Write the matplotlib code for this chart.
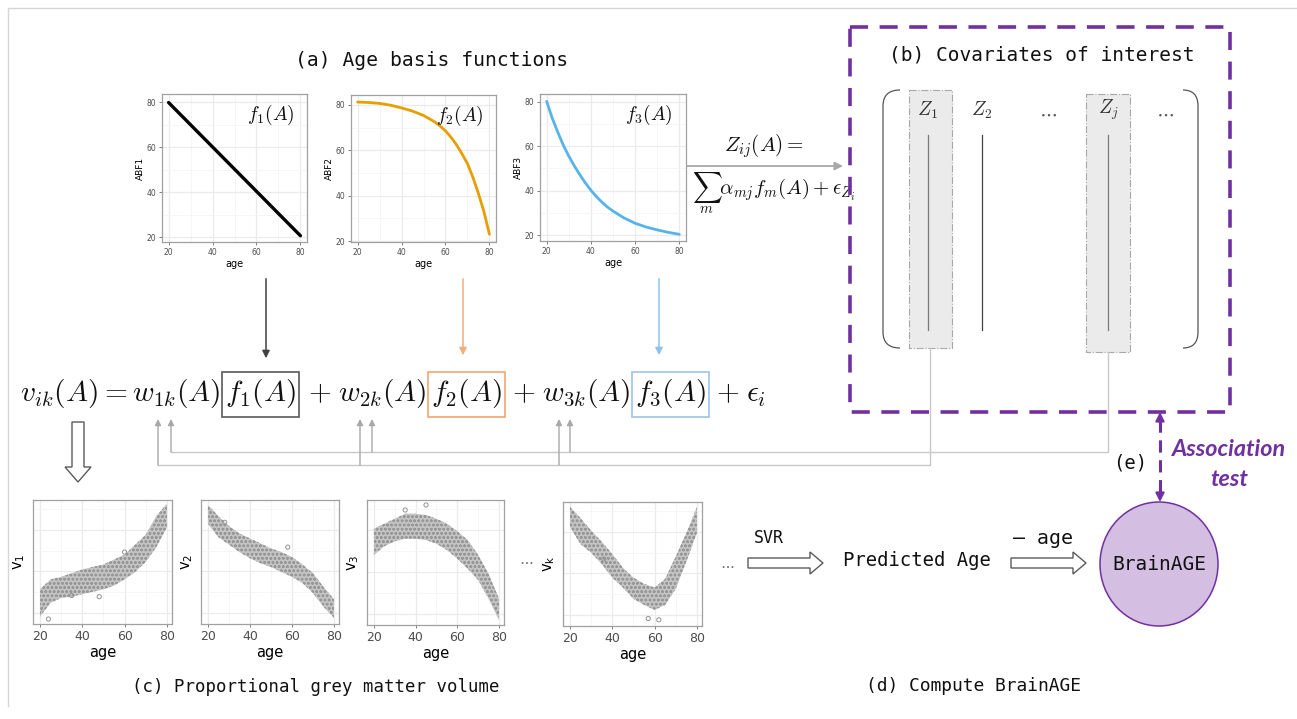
import numpy as np
import matplotlib
matplotlib.use('Agg')
import matplotlib.pyplot as plt
from matplotlib.patches import Rectangle, FancyArrow, Ellipse, PathPatch
from matplotlib.path import Path

plt.rcParams['mathtext.fontset'] = 'cm'
plt.rcParams['font.family'] = ['DejaVu Sans']

W, H = 1297, 719

# ---------------- data ----------------
abf1_age = [20, 80]
abf1 = [79.8, 20.6]

abf2_age = [20, 25, 30, 35, 40, 45, 50, 55, 57.5, 60, 62.5, 65, 67.5, 70, 72.5, 75, 77.5, 80]
abf2 = [81.3, 81.1, 80.7, 79.9, 78.7, 77.3, 75.4, 72.6, 70.8, 68.6, 65.8, 62.5, 58.5,
        54.2, 48.1, 41.0, 33.0, 23.0]

abf3_age = [20, 22.5, 25, 27.5, 30, 32.5, 35, 37.5, 40, 42.5, 45, 47.5, 50, 55, 60, 65, 70, 75, 80]
abf3 = [80.3, 72.8, 66.5, 60.6, 55.6, 51.2, 47.2, 43.5, 40.2, 37.3, 34.8, 32.6, 30.8,
        27.7, 25.3, 23.6, 22.3, 21.2, 20.3]

basis_labels = ['ABF1', 'ABF2', 'ABF3']
basis_titles = [r'$f_1(A)$', r'$f_2(A)$', r'$f_3(A)$']

gm_age = [20, 25, 30, 35, 40, 45, 50, 55, 60, 65, 70, 75, 80]
v1_low = [6, 17, 21, 22, 24, 26, 28, 31, 36, 42, 50, 62, 78]
v1_high = [28, 36, 38, 41, 44, 46, 48, 52, 56, 64, 72, 87, 97]
v2_low = [81, 70, 64, 58, 53, 49, 46, 42, 38, 33, 25, 14, 5]
v2_high = [96, 87, 79, 73, 69, 65, 61, 58, 54, 48, 41, 30, 20]
v3_low = [56, 63, 67, 69, 69, 68, 65, 60, 53, 45, 36, 21, 4]
v3_high = [77, 81, 85, 89, 89, 88, 85, 81, 75, 68, 56, 41, 21]
vk_low = [80, 66, 59, 50, 39, 31, 22, 17, 13, 17, 30, 52, 75]
vk_high = [96, 87, 77, 68, 58, 47, 39, 34, 31, 38, 56, 75, 96]
v_labels = [r'$\mathregular{v_1}$', r'$\mathregular{v_2}$', r'$\mathregular{v_3}$', r'$\mathregular{v_k}$']
v1_out_age, v1_out_val = [48, 60, 24, 35], [22, 58, 4, 23]
v2_out_age, v2_out_val = [28, 58], [82, 62]
v3_out_age, v3_out_val = [45, 35], [96, 92]
vk_out_age, vk_out_val = [57, 62, 36], [6, 5, 54]

cov_labels = [r'$Z_1$', r'$Z_2$', r'$Z_j$']

# ---------------- figure ----------------
fig = plt.figure(figsize=(W / 100, H / 100), dpi=100)
fig.patch.set_facecolor('white')
ax = fig.add_axes([0, 0, 1, 1], zorder=0)
ax.set_xlim(0, W)
ax.set_ylim(H, 0)
ax.axis('off')
R = fig.canvas.get_renderer()


def px_axes(l, t, r, b):
    return fig.add_axes([l / W, 1 - b / H, (r - l) / W, (b - t) / H], zorder=2)


def fit_text(x, y, s, width, **kw):
    t = ax.text(x, y, s, **kw)
    for _ in range(3):
        w = t.get_window_extent(R).width
        t.set_fontsize(t.get_fontsize() * width / w)
    return t


def style_gg(a, labelsize):
    a.set_facecolor('white')
    for sp in a.spines.values():
        sp.set_color('#A0A0A0')
        sp.set_linewidth(0.9)
    a.grid(True, which='major', color='#EBEBEB', lw=0.9)
    a.grid(True, which='minor', color='#F5F5F5', lw=0.6)
    a.set_axisbelow(True)
    a.tick_params(which='major', length=2.5, width=0.6, color='#6A6A6A',
                  labelsize=labelsize, labelcolor='#4D4D4D', pad=1.5)
    a.tick_params(which='minor', length=0)


# border of the whole picture
ax.plot([8, 8], [8, 706], color='#D6D6D6', lw=1)
ax.plot([8, W], [8, 8], color='#D6D6D6', lw=1)

# ---------------- (a) basis functions ----------------
fit_text(432, 60, '(a) Age basis functions', 271, family='DejaVu Sans Mono',
         ha='center', va='center', fontsize=14, color='#111111')

boxes_a = [(162, 94, 307, 242), (351, 95, 496, 242), (540, 94, 686, 241)]
ylims_a = [(17.8, 83.6), (19.6, 84.4), (17.3, 83.6)]
series_a = [(abf1_age, abf1, '#000000', 2.4), (abf2_age, abf2, '#E69F00', 2.0),
            (abf3_age, abf3, '#56B4E9', 2.0)]
for i in range(3):
    a = px_axes(*boxes_a[i])
    xs, ys, col, lw = series_a[i]
    a.plot(xs, ys, color=col, lw=lw, solid_capstyle='round', solid_joinstyle='round')
    a.set_xlim(17, 83)
    a.set_ylim(*ylims_a[i])
    a.set_xticks([20, 40, 60, 80])
    a.set_xticks([30, 50, 70], minor=True)
    a.set_yticks([20, 40, 60, 80])
    a.set_yticks([30, 50, 70], minor=True)
    style_gg(a, 5.5)
    a.set_xlabel('age', fontsize=7, labelpad=1.5)
    a.set_ylabel(basis_labels[i], fontsize=6.5, labelpad=1.5)
    a.text(0.91, 0.86, basis_titles[i], transform=a.transAxes, ha='right',
           va='center', fontsize=14, color='#111111')

# arrows from basis plots to equation
ax.annotate('', xy=(266, 361), xytext=(266, 276),
            arrowprops=dict(arrowstyle='-|>', color='#404040', lw=1.1, mutation_scale=11))
ax.annotate('', xy=(463, 358), xytext=(463, 276),
            arrowprops=dict(arrowstyle='-|>', color='#F4AE7E', lw=1.1, mutation_scale=11))
ax.annotate('', xy=(659, 358), xytext=(659, 276),
            arrowprops=dict(arrowstyle='-|>', color='#8EC3EA', lw=1.1, mutation_scale=11))

# ---------------- equation ----------------
pieces = [r'$v_{ik}(A) = w_{1k}(A)$', r'$f_1(A)$', r'$+\;w_{2k}(A)$', r'$f_2(A)$',
          r'$+\;w_{3k}(A)$', r'$f_3(A)$', r'$+\;\epsilon_i$']
gaps = [5, 12, 5, 10, 5, 10]
texts = [ax.text(0, 400, p, fontsize=22, va='baseline', ha='left', color='#111111')
         for p in pieces]
tot = sum(t.get_window_extent(R).width for t in texts)
fs = 22 * (745 - sum(gaps)) / tot
for t in texts:
    t.set_fontsize(fs)
x = 20
exts = []
for i, t in enumerate(texts):
    t.set_x(x)
    w = t.get_window_extent(R).width
    exts.append((x, x + w))
    x += w + (gaps[i] if i < len(gaps) else 0)
bb = texts[1].get_window_extent(R)
cy = H - (bb.y0 + bb.y1) / 2
for t in texts:
    t.set_y(400 + (394 - cy))
box_cols = ['#595959', '#F4A66E', '#9DC3E6']
for k, idx in enumerate([1, 3, 5]):
    x0, x1 = exts[idx]
    ax.add_patch(Rectangle((x0 - 3, 371.5), x1 - x0 + 6, 45, fill=False,
                           ec=box_cols[k], lw=1.2, zorder=3))

# big hollow arrow down
ax.add_patch(FancyArrow(78, 422, 0, 60, width=12, head_width=26, head_length=15,
                        length_includes_head=True, fc='white', ec='#5A5A5A', lw=1.0))

# connectors from Z columns back to weights
lc = '#C8C8C8'
ax.plot([930, 930, 158], [348, 465, 465], color=lc, lw=1)
ax.plot([1108, 1108, 171], [352, 452, 452], color=lc, lw=1)
for xx in [158, 360, 559]:
    ax.annotate('', xy=(xx, 419), xytext=(xx, 465),
                arrowprops=dict(arrowstyle='-|>', color='#A8A8A8', lw=1, mutation_scale=9,
                                shrinkA=0, shrinkB=0))
for xx in [171, 372, 570]:
    ax.annotate('', xy=(xx, 419), xytext=(xx, 452),
                arrowprops=dict(arrowstyle='-|>', color='#A8A8A8', lw=1, mutation_scale=9,
                                shrinkA=0, shrinkB=0))

# ---------------- Z_ij relation ----------------
ax.annotate('', xy=(843, 166), xytext=(686, 166),
            arrowprops=dict(arrowstyle='-|>', color='#A8A8A8', lw=1.3, mutation_scale=12,
                            shrinkA=0, shrinkB=0))
fit_text(764, 146, r'$Z_{ij}(A) =$', 80, ha='center', va='center', fontsize=16, color='#111111')
fit_text(692, 193, r'$\sum_{m}\alpha_{mj}f_m(A)+\epsilon_{Z_i}$', 164, ha='left',
         va='center', fontsize=12, color='#111111')

# ---------------- (b) covariates ----------------
purple = '#7030A0'
ax.add_patch(Rectangle((850, 27), 380, 385, fill=False, ec=purple, lw=2.6,
                       ls=(0, (5, 3.2)), zorder=4))
fit_text(1042, 55, '(b) Covariates of interest', 306, family='DejaVu Sans Mono',
         ha='center', va='center', fontsize=14, color='#111111')


def bracket(xa, xb, y0, y1, r=16):
    verts = [(xb, y0), (xa, y0), (xa, y0 + r), (xa, y1 - r), (xa, y1), (xb, y1)]
    codes = [Path.MOVETO, Path.CURVE3, Path.CURVE3, Path.LINETO, Path.CURVE3, Path.CURVE3]
    ax.add_patch(PathPatch(Path(verts, codes), fill=False, ec='#555555', lw=0.9))


bracket(883, 900, 90, 348)
bracket(1198, 1183, 90, 348)

ax.add_patch(Rectangle((909, 90), 43, 258, fc='#EBEBEB', ec='#A8A8A8', lw=0.8, ls='-.'))
ax.add_patch(Rectangle((1086, 94), 44, 258, fc='#EBEBEB', ec='#A8A8A8', lw=0.8, ls='-.'))
col_x = [928, 982, 1108]
col_c = ['#7A7A7A', '#444444', '#7A7A7A']
for i in range(3):
    ax.text(col_x[i], 110, cov_labels[i], ha='center', va='center', fontsize=14, color='#333333')
    ax.plot([col_x[i], col_x[i]], [135, 330], color=col_c[i], lw=0.9)
for xx in [1048, 1165]:
    ax.text(xx, 113, r'$\cdots$', ha='center', va='center', fontsize=14, color='#555555')

# ---------------- (c) grey matter volume ----------------
boxes_c = [(33, 500, 172, 624), (201, 500, 339, 624), (367, 500, 504, 625), (563, 502, 702, 626)]
bands = [(v1_low, v1_high), (v2_low, v2_high), (v3_low, v3_high), (vk_low, vk_high)]
outs = [(v1_out_age, v1_out_val), (v2_out_age, v2_out_val), (v3_out_age, v3_out_val),
        (vk_out_age, vk_out_val)]
plt.rcParams['hatch.linewidth'] = 0.7
for i in range(4):
    a = px_axes(*boxes_c[i])
    lo, hi = bands[i]
    a.fill_between(gm_age, lo, hi, facecolor='#C4C4C4', edgecolor='#979797',
                   hatch='oooo', lw=0, zorder=2)
    a.scatter(outs[i][0], outs[i][1], s=9, facecolors='none', edgecolors='#939393',
              lw=0.7, zorder=3)
    a.set_xlim(16.7, 82.4)
    a.set_ylim(0, 100)
    a.set_xticks([20, 40, 60, 80])
    a.set_xticks([30, 50, 70], minor=True)
    a.set_yticks([9, 42.5, 76])
    a.set_yticks([25.5, 59, 92.5], minor=True)
    style_gg(a, 9)
    a.tick_params(axis='y', which='both', length=0, labelleft=False)
    a.set_xlabel('age', fontsize=10.5, labelpad=2)
    a.set_ylabel(v_labels[i], fontsize=10.5, labelpad=4)

ax.text(526, 561, r'$\cdots$', ha='center', va='center', fontsize=11, color='#666666')
fit_text(316, 687, '(c) Proportional grey matter volume', 364, family='DejaVu Sans Mono',
         ha='center', va='center', fontsize=13, color='#111111')

# ---------------- (d) BrainAGE ----------------
ax.text(727, 565, r'$\cdots$', ha='center', va='center', fontsize=11, color='#666666')
ax.add_patch(FancyArrow(748, 563, 75, 0, width=10, head_width=22, head_length=13,
                        length_includes_head=True, fc='white', ec='#5A5A5A', lw=1.0))
fit_text(769, 538, 'SVR', 30, family='DejaVu Sans Mono', ha='center', va='center',
         fontsize=13, color='#111111')
fit_text(917, 560, 'Predicted Age', 149, family='DejaVu Sans Mono', ha='center',
         va='center', fontsize=13, color='#111111')
ax.add_patch(FancyArrow(1011, 563, 75, 0, width=10, head_width=22, head_length=13,
                        length_includes_head=True, fc='white', ec='#5A5A5A', lw=1.0))
fit_text(1043, 538, '– age', 60, family='DejaVu Sans Mono', ha='center', va='center',
         fontsize=13, color='#111111')
ax.add_patch(Ellipse((1159, 564), 118, 124, fc='#D4BEE2', ec=purple, lw=1.1))
fit_text(1159, 564, 'BrainAGE', 94, family='DejaVu Sans Mono', ha='center', va='center',
         fontsize=13, color='#111111')
fit_text(973, 686, '(d) Compute BrainAGE', 217, family='DejaVu Sans Mono', ha='center',
         va='center', fontsize=13, color='#111111')

# ---------------- (e) association test ----------------
ax.plot([1160, 1160], [420, 494], color=purple, lw=2.2, ls=(0, (4, 2.5)))
ax.annotate('', xy=(1160, 412), xytext=(1160, 424),
            arrowprops=dict(arrowstyle='-|>', color=purple, lw=1.5, mutation_scale=13,
                            shrinkA=0, shrinkB=0))
ax.annotate('', xy=(1160, 502), xytext=(1160, 490),
            arrowprops=dict(arrowstyle='-|>', color=purple, lw=1.5, mutation_scale=13,
                            shrinkA=0, shrinkB=0))
fit_text(1130, 463, '(e)', 34, family='DejaVu Sans Mono', ha='center', va='center',
         fontsize=14, color='#111111')
fit_text(1229, 450, 'Association', 114, family='Lato', style='italic', weight='bold',
         ha='center', va='center', fontsize=14, color=purple)
ax.text(1229, 480, 'test', family='Lato', style='italic', weight='bold',
        ha='center', va='center', fontsize=ax.texts[-1].get_fontsize(), color=purple)

fig.savefig('out.png', dpi=100, facecolor='white')
